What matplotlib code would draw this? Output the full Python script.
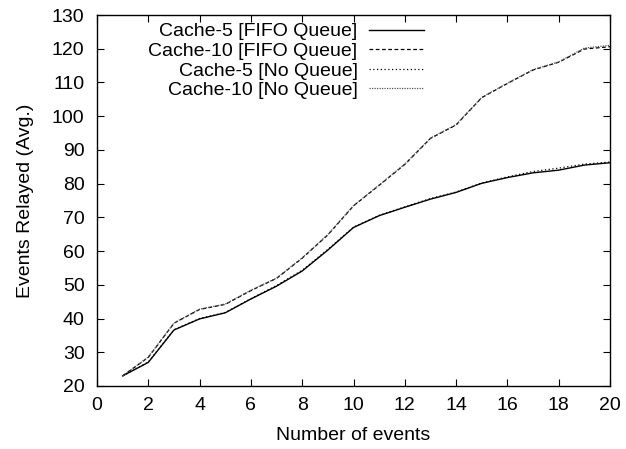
import matplotlib
matplotlib.use("Agg")
import matplotlib.pyplot as plt

plt.rcParams['font.family'] = ['Liberation Sans', 'DejaVu Sans']

events = list(range(1, 21))

cache5_fifo = [23, 27.0, 36.6, 39.9, 41.7, 45.8, 49.6, 54.1, 60.3, 67.0,
               70.5, 73.0, 75.4, 77.4, 80.1, 81.8, 83.2, 84.0, 85.5, 86.2]
cache10_fifo = [23, 28.5, 38.6, 42.7, 44.2, 48.3, 51.9, 57.9, 64.8, 73.4,
                79.5, 85.7, 93.4, 97.4, 105.5, 109.7, 113.7, 116.0, 119.9, 120.6]
cache5_noq = [23, 27.1, 36.7, 40.0, 41.8, 45.9, 49.8, 54.3, 60.5, 67.1,
              70.6, 73.1, 75.6, 77.5, 80.2, 82.0, 83.6, 84.6, 85.8, 86.4]
cache10_noq = [23, 28.6, 38.7, 42.8, 44.3, 48.4, 52.0, 58.0, 64.9, 73.5,
               79.6, 85.8, 93.5, 97.5, 105.6, 109.8, 113.8, 116.1, 120.2, 121.0]

fig = plt.figure(figsize=(6.26, 4.49), dpi=100)
ax = fig.add_axes([97 / 626, 1 - 386 / 449, (610 - 97) / 626, (386 - 15) / 449])

ax.plot(events, cache5_fifo, color='black', linestyle='-', linewidth=1, label='Cache-5 [FIFO Queue]')
ax.plot(events, cache10_fifo, color='black', linestyle=(0, (3, 2)), linewidth=0.9, label='Cache-10 [FIFO Queue]')
ax.plot(events, cache5_noq, color='black', linestyle=(0, (1, 2)), linewidth=0.9, label='Cache-5 [No Queue]')
ax.plot(events, cache10_noq, color='#555555', linestyle=(0, (1, 1)), linewidth=0.9, label='Cache-10 [No Queue]')

ax.set_xlim(0, 20)
ax.set_ylim(20, 130)
ax.set_xticks(range(0, 21, 2))
ax.set_yticks(range(20, 131, 10))
ax.tick_params(axis='y', pad=9)
ax.tick_params(axis='x', pad=8)
ax.tick_params(direction='in', top=True, right=True, labelsize=14, length=5, width=0.8)
for s in ax.spines.values():
    s.set_linewidth(1)

ax.set_xlabel('Number of events', fontsize=14, labelpad=9)
ax.set_ylabel('Events Relayed (Avg.)', fontsize=14, labelpad=13)

leg = ax.legend(loc='upper left', bbox_to_anchor=(0.085, 1.0), markerfirst=False, frameon=False,
                fontsize=14, handlelength=2.8, handletextpad=0.6, labelspacing=0.1,
                borderaxespad=0.0)
for t in leg.get_texts():
    t.set_ha('right')
leg._legend_box.align = 'right'

fig.savefig('out.png', dpi=100)
